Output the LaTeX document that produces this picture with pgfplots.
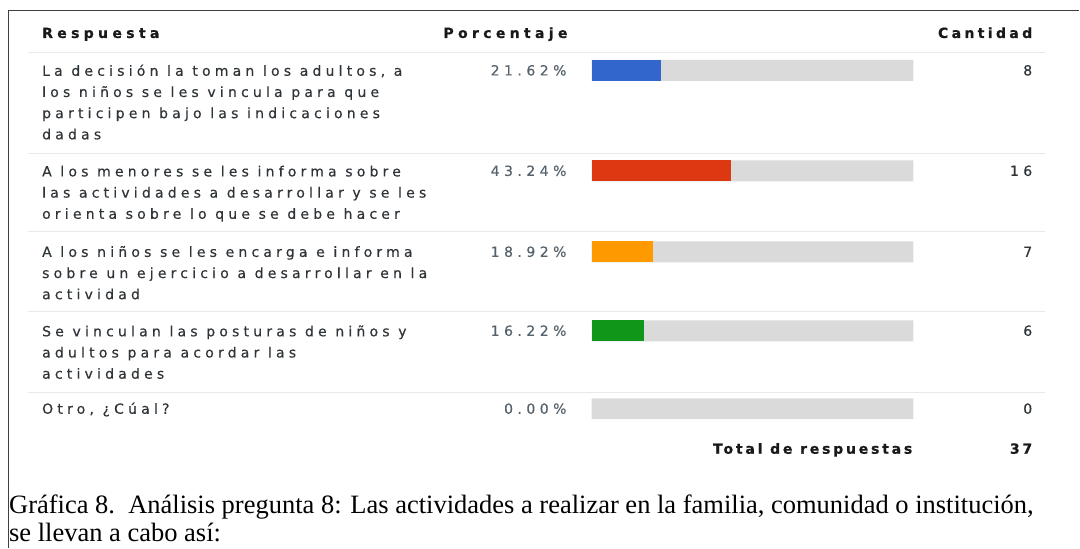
\documentclass[border=0pt]{standalone}
\usepackage{fontspec}
\setmainfont{Liberation Serif}
\newfontfamily\tabfont[LetterSpace=30,FakeBold=0.4]{DejaVu Sans}
\newfontfamily\numfont[LetterSpace=32,FakeBold=0.4]{DejaVu Sans}
\newfontfamily\tabbold[LetterSpace=31,FakeBold=0.8]{DejaVu Sans}
\newfontfamily\cantbold[LetterSpace=24,FakeBold=0.8]{DejaVu Sans}
\newfontfamily\totbold[LetterSpace=20,FakeBold=0.8]{DejaVu Sans}
\usepackage{pgfplots}
\pgfplotsset{compat=1.18}

\definecolor{gblue}{HTML}{3366CC}
\definecolor{gred}{HTML}{DC3912}
\definecolor{gorange}{HTML}{FF9900}
\definecolor{ggreen}{HTML}{109618}
\definecolor{barbg}{HTML}{DADADA}
\definecolor{txt}{HTML}{2F3438}
\definecolor{numtxt}{HTML}{56626C}
\definecolor{sep}{HTML}{E4EAEE}

% pixel column -> percent units of the x axis (bars start at px 592, 100% = 322 px)
\newcommand\X[1]{(#1-592)/3.22}

\begin{document}
\begin{tikzpicture}[
  tabtext/.style={anchor=base west, inner sep=0pt, text=txt,
    font=\tabfont\fontsize{14}{16}\selectfont},
  numtext/.style={anchor=base east, inner sep=0pt, text=numtxt,
    font=\numfont\fontsize{14}{16}\selectfont},
  headtext/.style={inner sep=0pt, text=black!90,
    font=\tabbold\bfseries\fontsize{14}{16}\selectfont},
  tottext/.style={inner sep=0pt, text=black!90, anchor=base east,
    font=\totbold\bfseries\fontsize{14}{16}\selectfont},
]
\begin{axis}[
  width=1080pt, height=548pt, scale only axis,
  xmin=-183.85, xmax=151.55,
  ymin=0, ymax=548, y dir=reverse,
  hide axis, clip=false,
]
\path (rel axis cs:0,0) rectangle (rel axis cs:1,1);

% frame
\draw[line width=1.3pt, black!75] (axis cs:{\X{8.5}},548) -- (axis cs:{\X{8.5}},10.5) -- (axis cs:{\X{1080}},10.5);

% row separators
\pgfplotsinvokeforeach{52,153,232,312,393}{
  \draw[sep, line width=0.8pt] (axis cs:{\X{28}},#1) -- (axis cs:{\X{1046}},#1);
}

% background bars (100%) and answer bars
\addplot[xbar, bar width=21, bar shift=0pt, fill=barbg, draw=none]
  coordinates {(100,70.5) (100,171) (100,252) (100,331) (100,409)};
\addplot[xbar, bar width=21, bar shift=0pt, fill=gblue, draw=none]
  coordinates {(21.62,70.5)};
\addplot[xbar, bar width=21, bar shift=0pt, fill=gred, draw=none]
  coordinates {(43.24,171)};
\addplot[xbar, bar width=21, bar shift=0pt, fill=gorange, draw=none]
  coordinates {(18.92,252)};
\addplot[xbar, bar width=21, bar shift=0pt, fill=ggreen, draw=none]
  coordinates {(16.22,331)};

% header
\node[headtext, anchor=base west] at (axis cs:{\X{42}},38) {Respuesta};
\node[headtext, anchor=base east] at (axis cs:{\X{568}},38) {Porcentaje};
\node[headtext, anchor=base east, font=\cantbold\bfseries\fontsize{14}{16}\selectfont] at (axis cs:{\X{1033}},38) {Cantidad};

% answers
\node[tabtext] at (axis cs:{\X{42}},75.8) {La decisión la toman los adultos, a};
\node[tabtext] at (axis cs:{\X{42}},97) {los niños se les vincula para que};
\node[tabtext] at (axis cs:{\X{42}},118.2) {participen bajo las indicaciones};
\node[tabtext] at (axis cs:{\X{42}},139.4) {dadas};

\node[tabtext] at (axis cs:{\X{42}},176.5) {A los menores se les informa sobre};
\node[tabtext] at (axis cs:{\X{42}},197.7) {las actividades a desarrollar y se les};
\node[tabtext] at (axis cs:{\X{42}},218.9) {orienta sobre lo que se debe hacer};

\node[tabtext] at (axis cs:{\X{42}},257) {A los niños se les encarga e informa};
\node[tabtext] at (axis cs:{\X{42}},278.2) {sobre un ejercicio a desarrollar en la};
\node[tabtext] at (axis cs:{\X{42}},299.4) {actividad};

\node[tabtext] at (axis cs:{\X{42}},336.5) {Se vinculan las posturas de niños y};
\node[tabtext] at (axis cs:{\X{42}},357.7) {adultos para acordar las};
\node[tabtext] at (axis cs:{\X{42}},378.9) {actividades};

\node[tabtext] at (axis cs:{\X{42}},414) {Otro, ¿Cúal?};

% percentages
\node[numtext] at (axis cs:{\X{567}},75.5) {21.62\%};
\node[numtext] at (axis cs:{\X{567}},176) {43.24\%};
\node[numtext] at (axis cs:{\X{567}},257) {18.92\%};
\node[numtext] at (axis cs:{\X{567}},336) {16.22\%};
\node[numtext] at (axis cs:{\X{567}},414) {0.00\%};

% counts
\node[numtext, text=txt] at (axis cs:{\X{1033}},75.5) {8};
\node[numtext, text=txt] at (axis cs:{\X{1033}},176) {16};
\node[numtext, text=txt] at (axis cs:{\X{1033}},257) {7};
\node[numtext, text=txt] at (axis cs:{\X{1033}},336) {6};
\node[numtext, text=txt] at (axis cs:{\X{1033}},414) {0};

% total
\node[tottext] at (axis cs:{\X{913}},454) {Total de respuestas};
\node[tottext] at (axis cs:{\X{1033}},454) {37};

% caption
\node[anchor=base west, inner sep=0pt, font=\fontsize{26.5}{29}\selectfont]
  at (axis cs:{\X{9}},514) {Gráfica 8.\ \ Análisis pregunta 8: Las actividades a realizar en la familia, comunidad o institución,};
\node[anchor=base west, inner sep=0pt, font=\fontsize{26.5}{29}\selectfont]
  at (axis cs:{\X{9}},542) {se llevan a cabo así:};
\end{axis}
\end{tikzpicture}
\end{document}
